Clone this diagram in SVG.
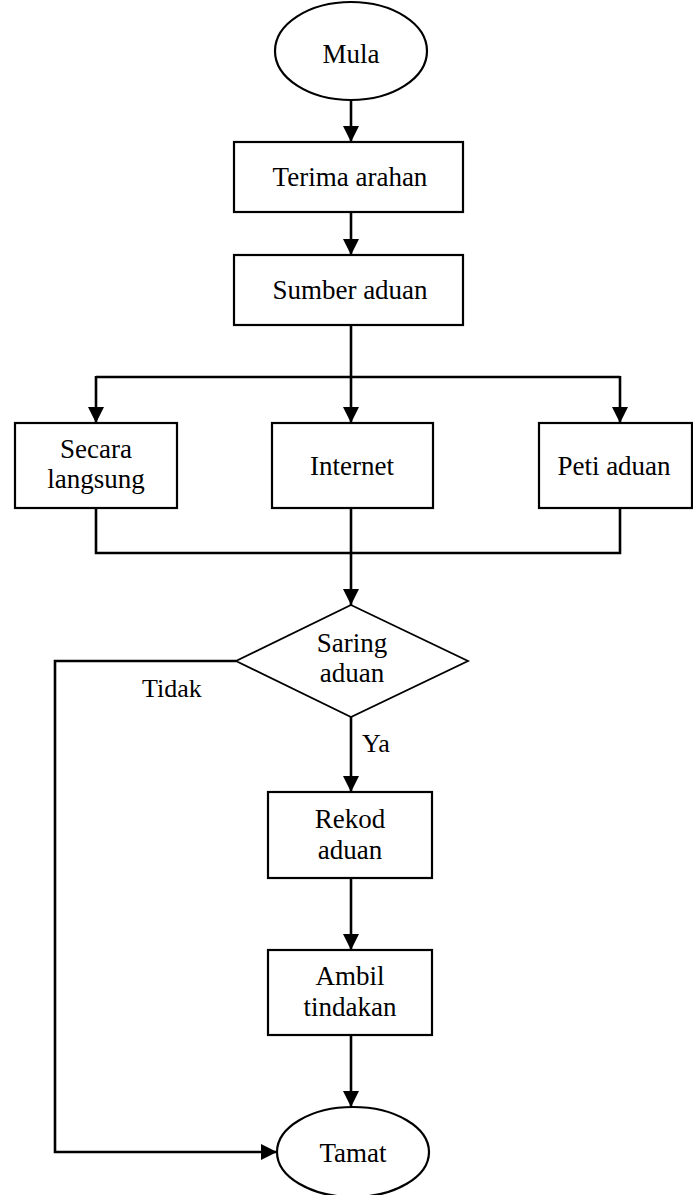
<svg xmlns="http://www.w3.org/2000/svg" width="693" height="1195" viewBox="0 0 693 1195">
  <style>
    .shape { fill: #fff; stroke: #000; stroke-width: 2.2; }
    .diamond { fill: #fff; stroke: #000; stroke-width: 1.8; }
    .wire { fill: none; stroke: #000; stroke-width: 2.6; }
    .lbl { font-family: "Liberation Serif", "Times New Roman", serif; font-size: 27px; fill: #000; text-anchor: middle; }
    .tag { font-family: "Liberation Serif", "Times New Roman", serif; font-size: 26px; fill: #000; }
  </style>
  <defs>
    <marker id="arrow" markerUnits="userSpaceOnUse" markerWidth="16" markerHeight="18" refX="16" refY="8" orient="auto">
      <path d="M0,0 L16,8 L0,16 Z" fill="#000"/>
    </marker>
  </defs>
  <rect width="693" height="1195" fill="#fff"/>

  <g id="connectors">
    <line class="wire" x1="351" y1="100" x2="351" y2="142" marker-end="url(#arrow)"/>
    <line class="wire" x1="351" y1="212" x2="351" y2="255" marker-end="url(#arrow)"/>
    <line class="wire" x1="351" y1="325" x2="351" y2="423" marker-end="url(#arrow)"/>
    <line class="wire" x1="96" y1="377" x2="620" y2="377"/>
    <line class="wire" x1="96" y1="376" x2="96" y2="423" marker-end="url(#arrow)"/>
    <line class="wire" x1="620" y1="376" x2="620" y2="423" marker-end="url(#arrow)"/>
    <polyline class="wire" points="96,508 96,553 620,553 620,508"/>
    <line class="wire" x1="351" y1="508" x2="351" y2="605" marker-end="url(#arrow)"/>
    <polyline class="wire" points="236,661 55,661 55,1152 277,1152" marker-end="url(#arrow)"/>
    <line class="wire" x1="351" y1="717" x2="351" y2="792" marker-end="url(#arrow)"/>
    <line class="wire" x1="351" y1="878" x2="351" y2="950" marker-end="url(#arrow)"/>
    <line class="wire" x1="351" y1="1035" x2="351" y2="1107" marker-end="url(#arrow)"/>
    <text class="tag" x="142" y="697">Tidak</text>
    <text class="tag" x="362" y="752">Ya</text>
  </g>

  <g id="mula">
    <ellipse class="shape" cx="351" cy="51" rx="76" ry="49"/>
    <text class="lbl" x="351" y="63">Mula</text>
  </g>

  <g id="terima-arahan">
    <rect class="shape" x="234" y="142" width="229" height="70"/>
    <text class="lbl" x="350" y="186">Terima arahan</text>
  </g>

  <g id="sumber-aduan">
    <rect class="shape" x="234" y="255" width="229" height="70"/>
    <text class="lbl" x="350" y="299">Sumber aduan</text>
  </g>

  <g id="secara-langsung">
    <rect class="shape" x="15" y="423" width="162" height="85"/>
    <text class="lbl" x="96" y="458">Secara</text>
    <text class="lbl" x="96" y="488">langsung</text>
  </g>

  <g id="internet">
    <rect class="shape" x="272" y="423" width="161" height="85"/>
    <text class="lbl" x="352" y="475">Internet</text>
  </g>

  <g id="peti-aduan">
    <rect class="shape" x="539" y="423" width="153" height="85"/>
    <text class="lbl" x="614" y="475">Peti aduan</text>
  </g>

  <g id="saring-aduan">
    <polygon class="diamond" points="351,605 468,661 351,717 236,661"/>
    <text class="lbl" x="352" y="652">Saring</text>
    <text class="lbl" x="352" y="682">aduan</text>
  </g>

  <g id="rekod-aduan">
    <rect class="shape" x="268" y="792" width="164" height="86"/>
    <text class="lbl" x="350" y="828">Rekod</text>
    <text class="lbl" x="350" y="859">aduan</text>
  </g>

  <g id="ambil-tindakan">
    <rect class="shape" x="268" y="950" width="164" height="85"/>
    <text class="lbl" x="350" y="985">Ambil</text>
    <text class="lbl" x="350" y="1016">tindakan</text>
  </g>

  <g id="tamat">
    <ellipse class="shape" cx="353" cy="1152" rx="76" ry="45"/>
    <text class="lbl" x="353" y="1162">Tamat</text>
  </g>
</svg>
